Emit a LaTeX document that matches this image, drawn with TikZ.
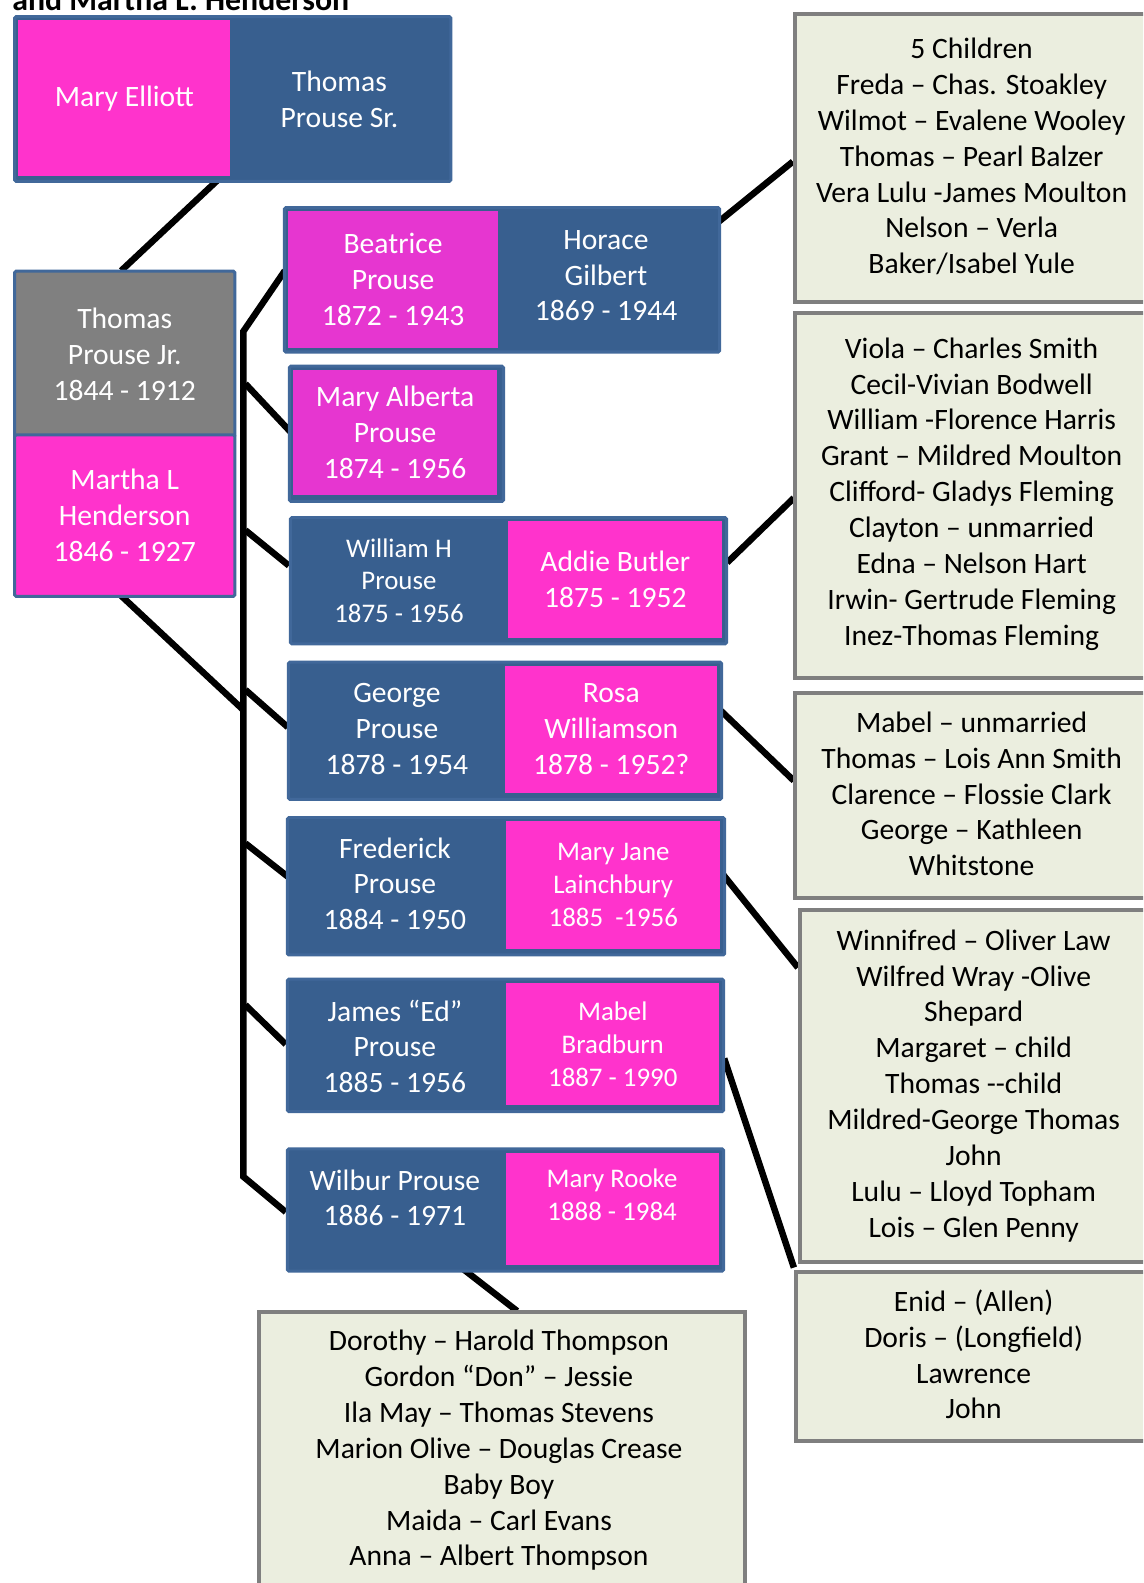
\documentclass[tikz,border=0pt]{standalone}
\usepackage{fontspec}
\setmainfont{Carlito}
\usetikzlibrary{calc}
\definecolor{pinkA}{HTML}{FF33CC}
\definecolor{pinkB}{HTML}{E636D0}
\definecolor{blueF}{HTML}{385F8F}
\definecolor{blueD}{HTML}{41689A}
\definecolor{greyF}{HTML}{808080}
\definecolor{greenF}{HTML}{EBEEDF}
\definecolor{greenD}{HTML}{7F7F7F}
\tikzset{
  bigtxt/.style={font=\fontsize{29.3}{35.5}\selectfont},
  smalltxt/.style={font=\fontsize{26.6}{32.5}\selectfont},
  couple/.style={draw=blueD, fill=blueF, line width=3pt, rounded corners=1.5pt, inner sep=0pt, anchor=north west, text=white, align=center},
  part/.style={inner sep=0pt, anchor=north west, text=white, align=center},
  wtxt/.style={text=white, align=center, inner sep=0pt},
  kids/.style={draw=greenD, fill=greenF, line width=4pt, inner sep=0pt, anchor=north west},
  kidtxt/.style={text=black, align=center, inner sep=0pt, font=\fontsize{29.3}{35.5}\selectfont},
  conn/.style={line width=6.4pt, black},
}
\begin{document}
\begin{tikzpicture}[x=1pt,y=-1pt]
\useasboundingbox (0,0) rectangle (1131.7,1567.3);
\clip (0,0) rectangle (1131.7,1567.3);
\fill[white] (0,0) rectangle (1131.7,1567.3);

% connector anchor coordinates (positions of box edges)
\coordinate (ttop) at (241,328);
\coordinate (tbot) at (241,1165);
\coordinate (tm) at (241,703);
\coordinate (b1) at (243,380);
\coordinate (b2) at (243,525);
\coordinate (b3) at (243,683);
\coordinate (b4) at (243,835);
\coordinate (b5) at (243,995);
\coordinate (srb) at (218,176);
\coordinate (jrt) at (120,268);
\coordinate (mhb) at (118,588);
\coordinate (bhl) at (282,268);
\coordinate (wrl) at (283,1200);
\coordinate (mal) at (288,428);
\coordinate (wal) at (286,560);
\coordinate (grl) at (285,720);
\coordinate (fml) at (285,868);
\coordinate (jml) at (283,1034);
\coordinate (bhr) at (711,220);
\coordinate (kal) at (785,160);
\coordinate (war) at (720,557);
\coordinate (kbl) at (786,493);
\coordinate (grr) at (713,703);
\coordinate (kcl) at (786,773);
\coordinate (fmr) at (716,866);
\coordinate (kdl) at (790,958);
\coordinate (jmr) at (717,1048);
\coordinate (kel) at (786,1255);
\coordinate (wrb) at (458,1256);
\coordinate (kft) at (512,1298);

% connectors (drawn first, boxes cover their ends)
\draw[conn] (srb) -- (jrt);
\draw[conn] (mhb) -- (tm);
\draw[conn, line join=miter] (bhl) -- (ttop) -- (tbot) -- (wrl);
\draw[conn] (b1) -- (mal);
\draw[conn] (b2) -- (wal);
\draw[conn] (b3) -- (grl);
\draw[conn] (b4) -- (fml);
\draw[conn] (b5) -- (jml);
\draw[conn] (bhr) -- (kal);
\draw[conn] (war) -- (kbl);
\draw[conn] (grr) -- (kcl);
\draw[conn] (fmr) -- (kdl);
\draw[conn] (jmr) -- (kel);
\draw[conn] (wrb) -- (kft);

% title (cut off at top)
\node[font=\fontsize{31.5}{36}\selectfont\bfseries, anchor=base west, inner sep=0pt] (title) at (12,10.5) {and Martha L. Henderson};

% parents of Thomas Jr.
\node[couple, minimum width=432pt, minimum height=163pt] (sr) at (13,15) {};
\node[part, fill=pinkA, minimum width=210pt, minimum height=154pt, bigtxt] (me) at (18,20) {Mary Elliott};
\node[wtxt, bigtxt] (tsr) at (336,98) {Thomas\\Prouse Sr.};

% Thomas Jr. and Martha
\node[couple, fill=greyF, minimum width=218pt, minimum height=164pt, bigtxt] (jr) at (13,267) {Thomas\\Prouse Jr.\\1844 - 1912};
\node[couple, fill=pinkA, minimum width=218pt, minimum height=160pt, bigtxt] (mh) at (13,429) {Martha L\\Henderson\\1846 - 1927};

% Beatrice / Horace
\node[couple, minimum width=431pt, minimum height=143pt] (bh) at (280,204) {};
\node[part, fill=pinkB, minimum width=208pt, minimum height=135pt, bigtxt] (bp) at (285,209) {Beatrice\\Prouse\\1872 - 1943};
\node[wtxt, bigtxt] (hg) at (600,273) {Horace\\Gilbert\\1869 - 1944};

% Mary Alberta
\node[couple, minimum width=212pt, minimum height=134pt] (ma) at (285,361) {};
\node[part, fill=pinkB, minimum width=202pt, minimum height=124pt, bigtxt] (map) at (290,366) {Mary Alberta\\Prouse\\1874 - 1956};

% William / Addie
\node[couple, minimum width=432pt, minimum height=125pt] (wa) at (286,511) {};
\node[wtxt, smalltxt] (wh) at (395,575) {William H\\Prouse\\1875 - 1956};
\node[part, fill=pinkA, minimum width=212pt, minimum height=115pt, bigtxt] (ab) at (503,516) {Addie Butler\\1875 - 1952};

% George / Rosa
\node[couple, minimum width=429pt, minimum height=136pt] (gr) at (284,654) {};
\node[wtxt, bigtxt] (gp) at (393,722) {George\\Prouse\\1878 - 1954};
\node[part, fill=pinkA, minimum width=210pt, minimum height=126pt, bigtxt] (rw) at (500,659) {Rosa\\Williamson\\1878 - 1952?};

% Frederick / Mary Jane
\node[couple, minimum width=433pt, minimum height=136pt] (fm) at (283,808) {};
\node[wtxt, bigtxt] (fp) at (391,875) {Frederick\\Prouse\\1884 - 1950};
\node[part, fill=pinkA, minimum width=212pt, minimum height=126pt, smalltxt] (mj) at (501,813) {Mary Jane\\Lainchbury\\1885~~-1956};

% James / Mabel
\node[couple, minimum width=432pt, minimum height=131pt] (jm) at (283,968) {};
\node[wtxt, bigtxt] (jp) at (391,1036) {James “Ed”\\Prouse\\1885 - 1956};
\node[part, fill=pinkA, minimum width=211pt, minimum height=121pt, smalltxt] (mb) at (501,973) {Mabel\\Bradburn\\1887 - 1990};

% Wilbur / Mary Rooke
\node[couple, minimum width=432pt, minimum height=121pt] (wr) at (283,1136) {};
\node[wtxt, bigtxt] (wp) at (391,1186) {Wilbur Prouse\\1886 - 1971};
\node[part, fill=pinkA, minimum width=211pt, minimum height=111pt] (mrbox) at (501,1141) {};
\node[wtxt, smalltxt] (mr) at (606,1183) {Mary Rooke\\1888 - 1984};

% children boxes
\node[kids, minimum width=360pt, minimum height=285pt] (kA) at (785,12) {};
\node[kidtxt] (tA) at (962,155) {5 Children\\Freda – Chas. Stoakley\\Wilmot – Evalene Wooley\\Thomas – Pearl Balzer\\Vera Lulu -James Moulton\\Nelson – Verla\\Baker/Isabel Yule};

\node[kids, minimum width=360pt, minimum height=361pt] (kB) at (785,308) {};
\node[kidtxt] (tB) at (962,489) {Viola – Charles Smith\\Cecil-Vivian Bodwell\\William -Florence Harris\\Grant – Mildred Moulton\\Clifford- Gladys Fleming\\Clayton – unmarried\\Edna – Nelson Hart\\Irwin- Gertrude Fleming\\Inez-Thomas Fleming};

\node[kids, minimum width=360pt, minimum height=203pt] (kC) at (785,684) {};
\node[kidtxt] (tC) at (962,786) {Mabel – unmarried\\Thomas – Lois Ann Smith\\Clarence – Flossie Clark\\George – Kathleen\\Whitstone};

\node[kids, minimum width=355pt, minimum height=348pt] (kD) at (790,899) {};
\node[kidtxt] (tD) at (964,1075) {Winnifred – Oliver Law\\Wilfred Wray -Olive\\Shepard\\Margaret – child\\Thomas -{}-child\\Mildred-George Thomas\\John\\Lulu – Lloyd Topham\\Lois – Glen Penny};

\node[kids, minimum width=359pt, minimum height=168pt] (kE) at (786,1257) {};
\node[kidtxt] (tE) at (964,1341) {Enid – (Allen)\\Doris – (Longfield)\\Lawrence\\John};

\node[kids, minimum width=482pt, minimum height=320pt] (kF) at (254,1297) {};
\node[kidtxt] (tF) at (494,1436) {Dorothy – Harold Thompson\\Gordon “Don” – Jessie\\Ila May – Thomas Stevens\\Marion Olive – Douglas Crease\\Baby Boy\\Maida – Carl Evans\\Anna – Albert Thompson};
\end{tikzpicture}
\end{document}
